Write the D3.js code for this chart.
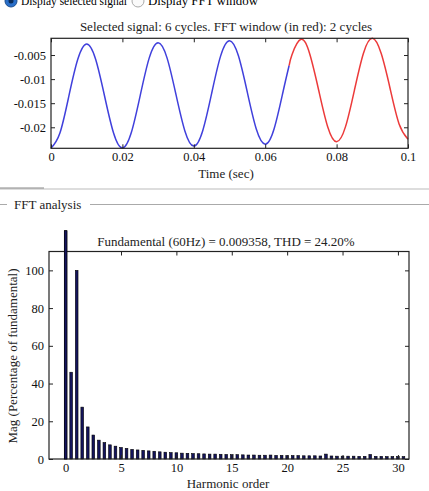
<!DOCTYPE html>
<html><head><meta charset="utf-8">
<script src="https://cdn.jsdelivr.net/npm/d3@7"></script>
<style>
html,body{margin:0;padding:0;background:#fff;}
svg{display:block;font-family:"Liberation Serif","Times New Roman",serif;}
svg text, .tick text{font-family:"Liberation Serif","Times New Roman",serif !important;}
</style></head><body>
<svg id="c" width="429" height="491"></svg>
<script>
// ---- data ----
const signalTime = [0,0.0025,0.005,0.0075,0.01,0.0125,0.015,0.0175,0.02,0.0225,0.025,0.0275,0.03,0.0325,0.035,0.0375,0.04,0.0425,0.045,0.0475,0.05,0.0525,0.055,0.0575,0.06,0.0625,0.065,0.0667,0.0675,0.07,0.0725,0.075,0.0775,0.08,0.0825,0.085,0.0875,0.09,0.0925,0.095,0.0975,0.1];
const signalValue = [-0.02436,-0.02119,-0.01354,-0.00589,-0.00272,-0.00588,-0.01351,-0.02114,-0.02430,-0.02110,-0.01338,-0.00565,-0.00245,-0.00559,-0.01318,-0.02076,-0.02390,-0.02070,-0.01297,-0.00523,-0.00203,-0.00517,-0.01277,-0.02036,-0.02350,-0.02031,-0.01262,-0.00718,-0.00493,-0.00174,-0.00485,-0.01237,-0.01989,-0.02300,-0.01986,-0.01227,-0.00467,-0.00153,-0.00470,-0.01200,-0.01930,-0.02250];
const fftWindowStart = 0.0667;
const timeTicks = [0,0.02,0.04,0.06,0.08,0.1];
const timeTickLabels = ["0","0.02","0.04","0.06","0.08","0.1"];
const signalTicks = [-0.005,-0.01,-0.015,-0.02];
const signalTickLabels = ["-0.005","-0.01","-0.015","-0.02"];

const harmonicOrder = d3.range(0, 31, 0.5); // 0, 0.5, ..., 30.5 (x positions)
const harmonicMag = [121,46,100,27.5,17,12.7,10,8.7,7.5,6.8,6.1,5.6,5.1,4.8,4.6,4.3,4.1,3.8,3.6,3.4,3.3,3.1,3.0,2.9,2.8,2.7,2.6,2.6,2.5,2.4,2.3,2.3,2.2,2.1,2.1,2.0,2.0,2.1,1.9,1.9,1.8,1.8,1.8,1.7,1.7,1.7,1.6,2.6,1.6,1.5,1.5,1.5,1.5,1.4,1.4,2.4,1.4,1.4,1.3,1.3,1.3,1.3];
const harmonicTicks = [0,5,10,15,20,25,30];
const magTicks = [0,20,40,60,80,100];

const svg = d3.select("#c");

// ---- radio header ----
const hdr = svg.append("g");
hdr.append("circle").attr("cx",11).attr("cy",1).attr("r",6).attr("fill","#2a6fc9").attr("stroke","#1d4f8f");
hdr.append("circle").attr("cx",11).attr("cy",1).attr("r",2.5).attr("fill","#0b2c5a");
hdr.append("text").attr("x",21).attr("y",5).attr("font-size",12.5).attr("textLength",106).attr("lengthAdjust","spacingAndGlyphs").text("Display selected signal");
hdr.append("circle").attr("cx",138).attr("cy",1).attr("r",6).attr("fill","#fafafa").attr("stroke","#aaa");
hdr.append("text").attr("x",148).attr("y",5).attr("font-size",12.5).attr("textLength",110).attr("lengthAdjust","spacingAndGlyphs").text("Display FFT window");

// ---- top chart ----
const T = {l:51, r:408, t:38.3, b:148.3};
const xT = d3.scaleLinear().domain([0,0.1]).range([T.l,T.r]);
const yT = d3.scaleLinear().domain([-0.02436,-0.00153]).range([T.b,T.t]);
const topG = svg.append("g");
topG.append("rect").attr("x",T.l).attr("y",T.t).attr("width",T.r-T.l).attr("height",T.b-T.t).attr("fill","#fff");

const pts = signalTime.map((t,i)=>({t, v:signalValue[i]}));
const line = d3.line().x(d=>xT(d.t)).y(d=>yT(d.v)).curve(d3.curveNatural);
topG.append("path").attr("d",line(pts.filter(d=>d.t<=fftWindowStart))).attr("fill","none").attr("stroke","#4040dc").attr("stroke-width",1.5);
topG.append("path").attr("d",line(pts.filter(d=>d.t>=fftWindowStart))).attr("fill","none").attr("stroke","#ec3a3a").attr("stroke-width",1.5);

function frame(g, B, xs, ys, xt, yt, xlab, ylab, fs){
  const ax = g.append("g");
  ax.append("g").attr("transform",`translate(0,${B.b})`).call(d3.axisBottom(xs).tickValues(xt).tickSizeInner(-4).tickSizeOuter(0).tickFormat((d,i)=>xlab[i]))
    .call(a=>{a.attr("font-family",null); a.select(".domain").remove(); a.selectAll("text").attr("font-size",fs).attr("y",4).attr("dy","0.71em").attr("fill","#111");});
  ax.append("g").attr("transform",`translate(0,${B.t})`).call(d3.axisTop(xs).tickValues(xt).tickSizeInner(-4).tickSizeOuter(0).tickFormat(""))
    .call(a=>a.select(".domain").remove());
  ax.append("g").attr("transform",`translate(${B.l},0)`).call(d3.axisLeft(ys).tickValues(yt).tickSizeInner(-4).tickSizeOuter(0).tickFormat((d,i)=>ylab[i]))
    .call(a=>{a.attr("font-family",null); a.select(".domain").remove(); a.selectAll("text").attr("font-size",fs).attr("x",-5).attr("fill","#111");});
  ax.append("g").attr("transform",`translate(${B.r},0)`).call(d3.axisRight(ys).tickValues(yt).tickSizeInner(-4).tickSizeOuter(0).tickFormat(""))
    .call(a=>a.select(".domain").remove());
  ax.selectAll(".tick line").attr("stroke","#222");
  g.append("rect").attr("x",B.l).attr("y",B.t).attr("width",B.r-B.l).attr("height",B.b-B.t).attr("fill","none").attr("stroke","#222").attr("stroke-width",1.2);
}
frame(topG, T, xT, yT, timeTicks, signalTicks, timeTickLabels, signalTickLabels, 12.5);
topG.append("text").attr("x",226).attr("y",31).attr("text-anchor","middle").attr("font-size",13).attr("fill","#222").text("Selected signal: 6 cycles. FFT window (in red): 2 cycles");
topG.append("text").attr("x",226).attr("y",178).attr("text-anchor","middle").attr("font-size",13).attr("fill","#222").text("Time (sec)");

// ---- separators / fieldset ----
svg.append("line").attr("x1",0).attr("x2",429).attr("y1",189).attr("y2",189).attr("stroke","#bbb");
svg.append("line").attr("x1",0).attr("x2",44).attr("y1",188).attr("y2",188).attr("stroke","#888");
svg.append("line").attr("x1",0).attr("x2",7).attr("y1",204.5).attr("y2",204.5).attr("stroke","#aaa");
svg.append("line").attr("x1",90).attr("x2",429).attr("y1",204.5).attr("y2",204.5).attr("stroke","#aaa");
svg.append("text").attr("x",14).attr("y",208.5).attr("font-size",13).attr("fill","#222").text("FFT analysis");

// ---- bottom chart ----
const Bm = {l:49, r:409, t:251.5, b:459};
const xB = d3.scaleLinear().domain([-1.5,31]).range([Bm.l,Bm.r]);
const yB = d3.scaleLinear().domain([0,110]).range([Bm.b,Bm.t]);
const botG = svg.append("g");
const bw = xB(0.24)-xB(0);
botG.selectAll("rect.bar").data(harmonicOrder.map((h,i)=>({h, m:harmonicMag[i]}))).join("rect").attr("class","bar")
  .attr("x",d=>xB(d.h)-bw/2).attr("width",bw)
  .attr("y",d=>yB(d.m)).attr("height",d=>yB(0)-yB(d.m))
  .attr("fill","#14145e").attr("stroke","#000").attr("stroke-width",0.6);
frame(botG, Bm, xB, yB, harmonicTicks, magTicks, harmonicTicks.map(String), magTicks.map(String), 12.5);
// redraw bar 0 on top of frame (extends beyond axes)
botG.append("rect").attr("x",xB(0)-bw/2).attr("width",bw).attr("y",yB(harmonicMag[0])).attr("height",yB(0)-yB(harmonicMag[0])).attr("fill","#14145e").attr("stroke","#000").attr("stroke-width",0.6);
botG.append("text").attr("x",226).attr("y",246).attr("text-anchor","middle").attr("font-size",13).attr("fill","#222").text("Fundamental (60Hz) = 0.009358, THD = 24.20%");
botG.append("text").attr("x",228).attr("y",488).attr("text-anchor","middle").attr("font-size",13).attr("fill","#222").text("Harmonic order");
botG.append("text").attr("transform","translate(17,356) rotate(-90)").attr("text-anchor","middle").attr("font-size",13).attr("fill","#222").text("Mag (Percentage of fundamental)");
</script>
</body></html>
